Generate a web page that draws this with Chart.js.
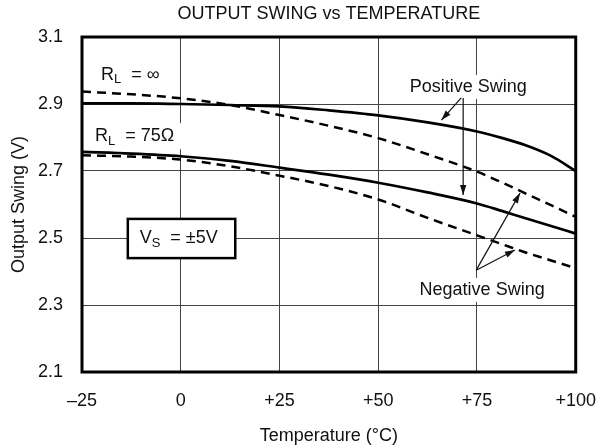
<!DOCTYPE html>
<html>
<head>
<meta charset="utf-8">
<script src="https://cdn.jsdelivr.net/npm/chart.js@4/dist/chart.umd.min.js"></script>
<style>
  html, body { margin: 0; padding: 0; background: #fff; }
  #wrap { width: 614px; height: 448px; }
</style>
</head>
<body>
<div id="wrap"><canvas id="myChart" width="614" height="448"></canvas></div>
<script>
// temperature points (°C)
var temps = [-25, -12.5, 0, 12.5, 25, 37.5, 50, 62.5, 75, 81.25, 87.5, 93.75, 100];
// output swing (V)
var posInf = [2.902, 2.902, 2.900, 2.897, 2.893, 2.881, 2.866, 2.845, 2.818, 2.799, 2.776, 2.745, 2.700];
var negInf = [2.937, 2.929, 2.917, 2.897, 2.867, 2.835, 2.798, 2.750, 2.698, 2.666, 2.632, 2.598, 2.563];
var pos75  = [2.757, 2.752, 2.744, 2.730, 2.710, 2.689, 2.665, 2.636, 2.603, 2.581, 2.558, 2.536, 2.513];
var neg75  = [2.747, 2.743, 2.734, 2.714, 2.686, 2.655, 2.615, 2.560, 2.508, 2.482, 2.456, 2.433, 2.410];

var xTickVals = [-25, 0, 25, 50, 75, 100];
var xTickLabels = ['\u201325', '0', '+25', '+50', '+75', '+100'];
var yTickVals = [2.1, 2.3, 2.5, 2.7, 2.9, 3.1];
var yTickLabels = ['2.1', '2.3', '2.5', '2.7', '2.9', '3.1'];

var chartTitle = 'OUTPUT SWING vs TEMPERATURE';

// annotations, in data units
var labels = [
    {text: 'Positive Swing', x: 72.8, y: 2.951},
    {text: 'Negative Swing', x: 76.3, y: 2.345}
];
var arrows = [
    [71.0, 2.918, 66.0, 2.852],
    [71.5, 2.918, 71.5, 2.628],
    [74.8, 2.404, 85.9, 2.634],
    [74.8, 2.404, 84.6, 2.464]
];

var FONT = "'Liberation Sans', Arial, Helvetica, sans-serif";

function pts(ys) {
    return temps.map(function(t, i) { return {x: t, y: ys[i]}; });
}

function subText(ctx, x, y, main, sub, rest) {
    ctx.textAlign = 'left';
    ctx.textBaseline = 'middle';
    ctx.font = '18px ' + FONT;
    ctx.fillText(main, x, y);
    var w = ctx.measureText(main).width;
    ctx.font = '13px ' + FONT;
    ctx.fillText(sub, x + w, y + 5);
    var w2 = ctx.measureText(sub).width;
    ctx.font = '18px ' + FONT;
    ctx.fillText(rest, x + w + w2, y);
}

function arrowHead(ctx, x1, y1, x2, y2) {
    var a = Math.atan2(y2 - y1, x2 - x1);
    var len = 10, half = 3.2;
    ctx.beginPath();
    ctx.moveTo(x2, y2);
    ctx.lineTo(x2 - len * Math.cos(a) + half * Math.sin(a), y2 - len * Math.sin(a) - half * Math.cos(a));
    ctx.lineTo(x2 - len * Math.cos(a) - half * Math.sin(a), y2 - len * Math.sin(a) + half * Math.cos(a));
    ctx.closePath();
    ctx.fill();
}

var notesPlugin = {
    id: 'notes',
    beforeDatasetsDraw: function(chart) {
        var ctx = chart.ctx, xs = chart.scales.x, ys = chart.scales.y;
        ctx.save();
        ctx.fillStyle = '#fff';
        ctx.font = '18px ' + FONT;
        // white backing behind the text notes
        labels.forEach(function(l) {
            var w = ctx.measureText(l.text).width;
            ctx.fillRect(xs.getPixelForValue(l.x) - w / 2 - 8, ys.getPixelForValue(l.y) - 12, w + 16, 24);
        });
        ctx.fillRect(xs.getPixelForValue(-21.7) - 4, ys.getPixelForValue(2.804) - 13, 95, 26);
        ctx.fillRect(xs.getPixelForValue(-20.2) - 4, ys.getPixelForValue(2.987) - 13, 80, 26);
        ctx.restore();
    },
    afterDatasetsDraw: function(chart) {
        var ctx = chart.ctx, xs = chart.scales.x, ys = chart.scales.y;
        var a = chart.chartArea;
        ctx.save();
        // plot frame
        ctx.strokeStyle = '#000';
        ctx.lineWidth = 3;
        ctx.strokeRect(a.left, a.top, a.right - a.left, a.bottom - a.top);

        // title, centred over the plot
        ctx.fillStyle = '#111';
        ctx.font = '18px ' + FONT;
        ctx.textAlign = 'center';
        ctx.textBaseline = 'middle';
        ctx.fillText(chartTitle, (a.left + a.right) / 2, 14);

        ctx.strokeStyle = '#111';
        ctx.lineWidth = 1.2;
        arrows.forEach(function(r) {
            var x1 = xs.getPixelForValue(r[0]), y1 = ys.getPixelForValue(r[1]);
            var x2 = xs.getPixelForValue(r[2]), y2 = ys.getPixelForValue(r[3]);
            ctx.beginPath();
            ctx.moveTo(x1, y1);
            ctx.lineTo(x2, y2);
            ctx.stroke();
            arrowHead(ctx, x1, y1, x2, y2);
        });

        ctx.font = '18px ' + FONT;
        ctx.textAlign = 'center';
        ctx.textBaseline = 'middle';
        labels.forEach(function(l) {
            ctx.fillText(l.text, xs.getPixelForValue(l.x), ys.getPixelForValue(l.y));
        });

        subText(ctx, xs.getPixelForValue(-20.2), ys.getPixelForValue(2.987), 'R', 'L', '  = \u221e');
        subText(ctx, xs.getPixelForValue(-21.7), ys.getPixelForValue(2.804), 'R', 'L', '  = 75\u03a9');

        // supply box
        var bx1 = xs.getPixelForValue(-13.4), bx2 = xs.getPixelForValue(13.8);
        var by1 = ys.getPixelForValue(2.557), by2 = ys.getPixelForValue(2.440);
        ctx.fillStyle = '#fff';
        ctx.fillRect(bx1, by1, bx2 - bx1, by2 - by1);
        ctx.strokeStyle = '#000';
        ctx.lineWidth = 2.5;
        ctx.strokeRect(bx1, by1, bx2 - bx1, by2 - by1);
        ctx.fillStyle = '#111';
        subText(ctx, xs.getPixelForValue(-10.4), ys.getPixelForValue(2.5), 'V', 'S', '  = \u00b15V');
        ctx.restore();
    }
};

var ctx = document.getElementById('myChart');
var chart = new Chart(ctx, {
    type: 'line',
    data: {
        datasets: [
            { label: 'Positive RL=inf', data: pts(posInf), borderColor: '#000', borderWidth: 2.7, pointRadius: 0, fill: false, cubicInterpolationMode: 'monotone' },
            { label: 'Negative RL=inf', data: pts(negInf), borderColor: '#000', borderWidth: 2.5, borderDash: [9, 6], pointRadius: 0, fill: false, cubicInterpolationMode: 'monotone' },
            { label: 'Positive RL=75', data: pts(pos75), borderColor: '#000', borderWidth: 2.7, pointRadius: 0, fill: false, cubicInterpolationMode: 'monotone' },
            { label: 'Negative RL=75', data: pts(neg75), borderColor: '#000', borderWidth: 2.5, borderDash: [9, 6], pointRadius: 0, fill: false, cubicInterpolationMode: 'monotone' }
        ]
    },
    options: {
        responsive: false,
        animation: false,
        layout: { padding: { left: 0, right: 36, top: 37, bottom: 0 } },
        plugins: {
            legend: { display: false },
            tooltip: { enabled: false },
            title: { display: false }
        },
        scales: {
            x: {
                type: 'linear',
                min: -25,
                max: 100,
                afterFit: function(s) { s.height = 76; },
                afterBuildTicks: function(s) { s.ticks = xTickVals.map(function(v) { return {value: v}; }); },
                grid: { color: '#444', lineWidth: 1, drawTicks: false },
                border: { display: false },
                ticks: {
                    padding: 18,
                    color: '#111',
                    font: { family: FONT, size: 18 },
                    maxRotation: 0,
                    callback: function(v, i) { return xTickLabels[i]; }
                },
                title: {
                    display: true,
                    text: 'Temperature (\u00b0C)',
                    color: '#111',
                    font: { family: FONT, size: 18, lineHeight: 1.2 },
                    padding: { top: 0, bottom: 1.2 }
                }
            },
            y: {
                min: 2.1,
                max: 3.1,
                afterFit: function(s) { s.width = 82; },
                afterBuildTicks: function(s) { s.ticks = yTickVals.map(function(v) { return {value: v}; }); },
                grid: { color: '#444', lineWidth: 1, drawTicks: false },
                border: { display: false },
                ticks: {
                    padding: 19,
                    color: '#111',
                    font: { family: FONT, size: 18 },
                    callback: function(v, i) { return yTickLabels[i]; }
                },
                title: {
                    display: true,
                    text: 'Output Swing (V)',
                    color: '#111',
                    font: { family: FONT, size: 18, lineHeight: 1.2 },
                    padding: { top: 8.5, bottom: 0 }
                }
            }
        }
    },
    plugins: [notesPlugin]
});
</script>
</body>
</html>
